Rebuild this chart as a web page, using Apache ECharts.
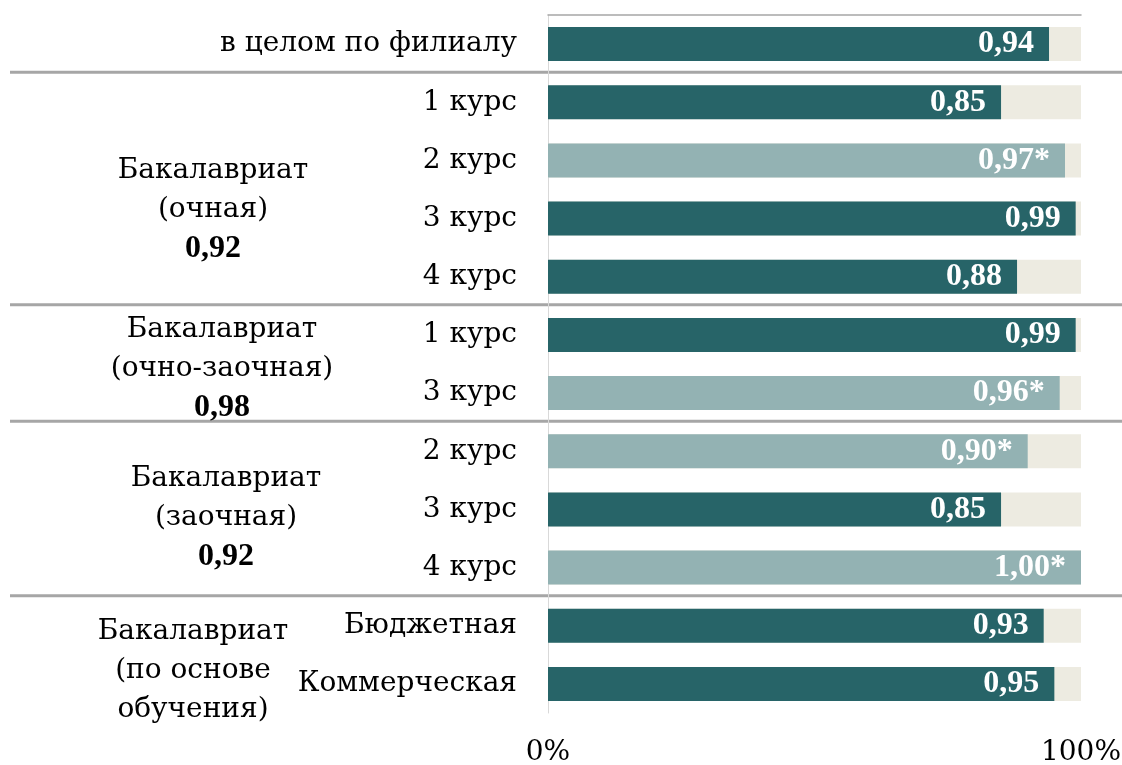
<!DOCTYPE html>
<html lang="ru">
<head>
    <meta charset="UTF-8">
    <title>Доля</title>
    <script src="https://cdn.jsdelivr.net/npm/echarts@6/dist/echarts.min.js"></script>
</head>
<style>
    body {
        margin: 0;
        padding: 0;
        background: #fff;
    }
    #main {
        width: 1122px;
        height: 765px;
    }
</style>
<body>
<div id="main"></div>
<script type="text/javascript">
    // строки диаграммы (сверху вниз)
    var categories = ['в целом по филиалу', '1 курс', '2 курс', '3 курс', '4 курс',
        '1 курс', '3 курс', '2 курс', '3 курс', '4 курс', 'Бюджетная', 'Коммерческая'];
    var values = [0.94, 0.85, 0.97, 0.99, 0.88, 0.99, 0.96, 0.90, 0.85, 1.00, 0.93, 0.95];
    // отмеченные звёздочкой (светлые столбики)
    var marked = [false, false, true, false, false, false, true, true, false, true, false, false];
    var tickLabels = ['0%', '100%'];

    // группы слева
    var groupNames = ['Бакалавриат\n(очная)', 'Бакалавриат\n(очно-заочная)', 'Бакалавриат\n(заочная)', 'Бакалавриат\n(по основе\nобучения)'];
    var groupAvg = ['0,92', '0,98', '0,92', ''];
    var groupFirst = [1, 5, 7, 10];
    var groupLast = [4, 6, 9, 11];

    // раскладка подписей групп
    var groupX = [213, 222, 226, 193];
    var groupShiftY = [20, 5, 8, 16];

    var FONT = '"DejaVu Serif", "Liberation Serif", serif';
    var NUMFONT = '"Liberation Serif", serif';
    var FS = 28;
    var DARK = '#276468';
    var LIGHT = '#93B2B3';
    var BG = '#EDEBE1';

    var myChart = echarts.init(document.getElementById('main'));

    var barData = [];
    for (var i = 0; i < values.length; i++) {
        barData.push({
            value: values[i],
            itemStyle: {color: marked[i] ? LIGHT : DARK},
            marked: marked[i]
        });
    }

    var option = {
        animation: false,
        grid: {left: 548, right: 41, top: 15, bottom: 52, containLabel: false, outerBoundsMode: 'none'},
        xAxis: [{
            type: 'value',
            min: 0,
            max: 1,
            interval: 1,
            axisLine: {show: false},
            axisTick: {show: false},
            splitLine: {show: false},
            axisLabel: {
                margin: 26,
                color: '#000',
                fontFamily: FONT,
                fontSize: FS,
                formatter: function (v) {
                    return v === 0 ? tickLabels[0] : tickLabels[1];
                }
            }
        }, {
            type: 'value',
            position: 'top',
            min: 0,
            max: 1,
            axisLine: {show: true, lineStyle: {color: '#A6A6A6', width: 1.5}},
            axisTick: {show: false},
            axisLabel: {show: false},
            splitLine: {show: false}
        }],
        yAxis: {
            type: 'category',
            inverse: true,
            data: categories,
            axisLine: {show: true, lineStyle: {color: '#D9D9D9', width: 1}},
            axisTick: {show: false},
            axisLabel: {
                margin: 31,
                color: '#000',
                fontFamily: FONT,
                fontSize: FS
            }
        },
        series: [{
            type: 'bar',
            data: barData,
            barWidth: 34,
            showBackground: true,
            backgroundStyle: {color: BG},
            label: {
                show: true,
                position: 'insideRight',
                distance: 15,
                color: '#fff',
                fontFamily: NUMFONT,
                fontSize: 32,
                fontWeight: 'bold',
                formatter: function (p) {
                    var s = p.value.toFixed(2).replace('.', ',');
                    return p.data.marked ? s + '*' : s;
                }
            }
        }]
    };
    myChart.setOption(option);

    // разделители и подписи групп по координатам оси
    function rowY(i) {
        return myChart.convertToPixel({yAxisIndex: 0}, i);
    }
    var graphics = [];
    var seps = [0];
    for (var g = 0; g < groupLast.length - 1; g++) seps.push(groupLast[g]);
    for (var k = 0; k < seps.length; k++) {
        var y = (rowY(seps[k]) + rowY(seps[k] + 1)) / 2 - 1;
        graphics.push({
            type: 'line',
            shape: {x1: 10, y1: y, x2: 1122, y2: y},
            style: {stroke: '#A6A6A6', lineWidth: 3}
        });
    }
    for (var j = 0; j < groupNames.length; j++) {
        var cy = (rowY(groupFirst[j]) + rowY(groupLast[j])) / 2 + groupShiftY[j];
        var txt = groupNames[j] + (groupAvg[j] ? '\n{b|' + groupAvg[j] + '}' : '');
        graphics.push({
            type: 'text',
            x: groupX[j],
            y: cy,
            style: {
                text: txt,
                fill: '#000',
                fontFamily: FONT,
                fontSize: FS,
                lineHeight: 39,
                align: 'center',
                verticalAlign: 'middle',
                rich: {
                    b: {fontWeight: 'bold', fontFamily: NUMFONT, fontSize: 32, lineHeight: 39, fill: '#000'}
                }
            }
        });
    }
    myChart.setOption({graphic: graphics});
</script>
</body>
</html>
